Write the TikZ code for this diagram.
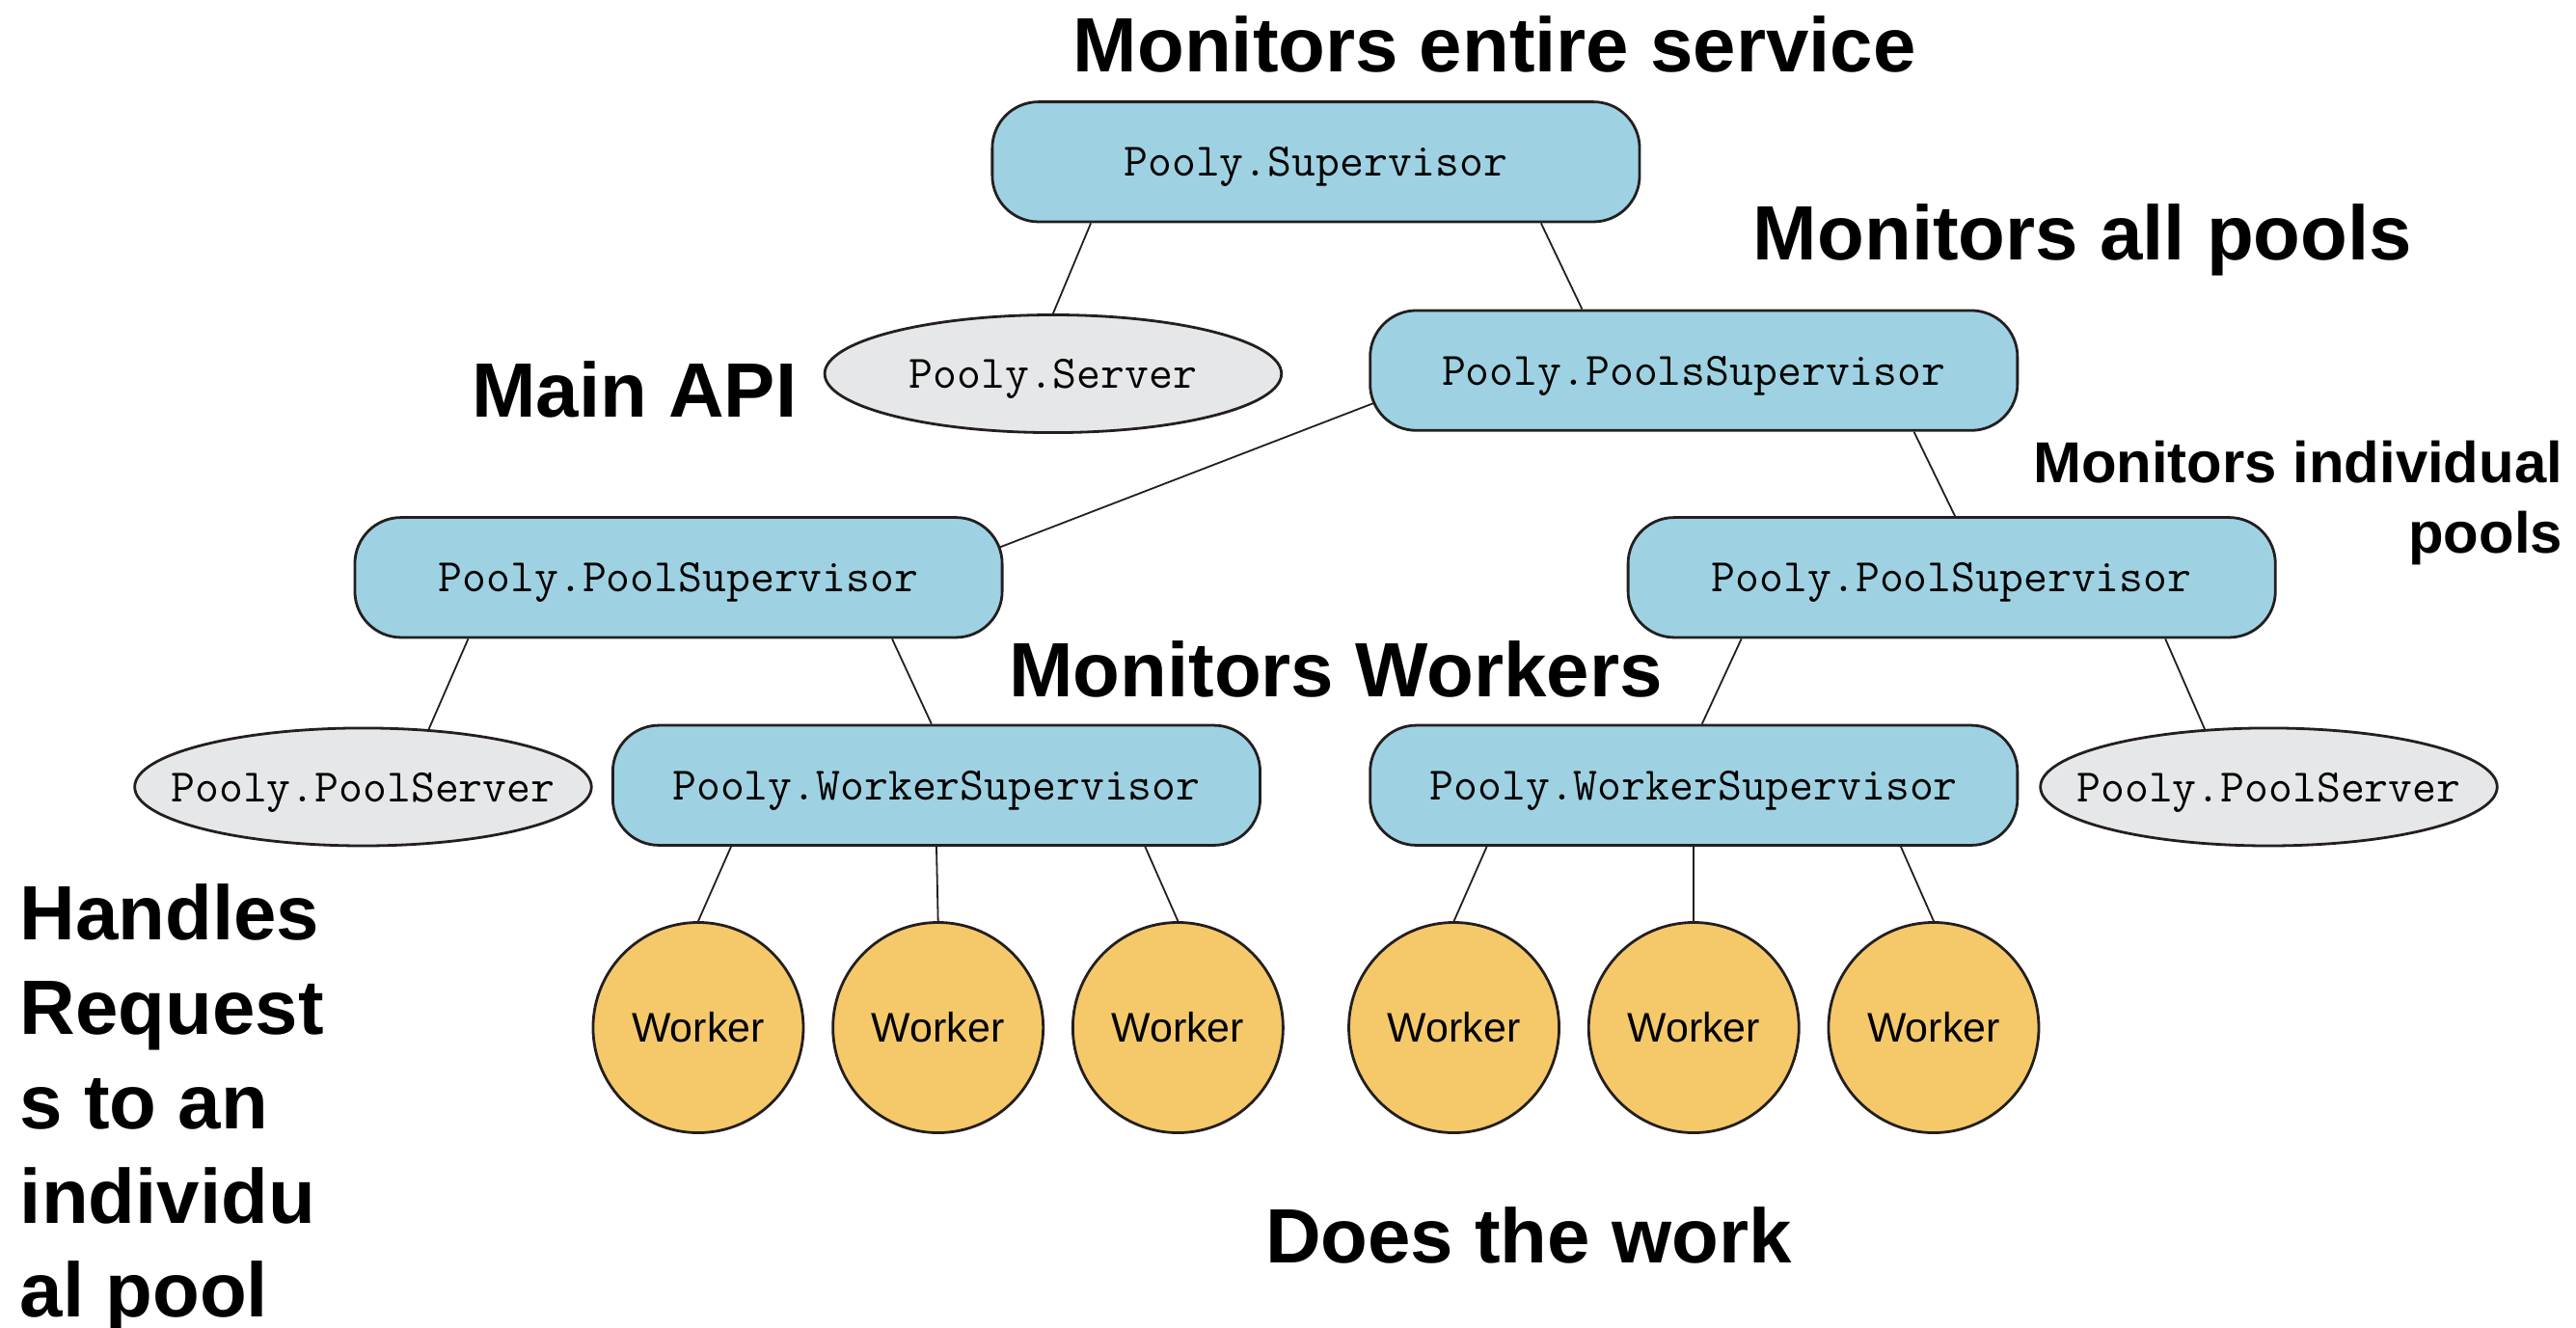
\documentclass[tikz,border=0pt]{standalone}
\usepackage{fontspec}
\setmainfont{Liberation Sans}
\usetikzlibrary{shapes.geometric,calc}
\definecolor{ink}{HTML}{231F20}
\definecolor{supblue}{HTML}{9ED2E2}
\definecolor{srvgrey}{HTML}{E6E7E8}
\definecolor{wrkorange}{HTML}{F5C96A}
\begin{document}
\begin{tikzpicture}[x=0.03cm, y=-0.03cm,
  supbox/.style={draw=ink, line width=1.4pt, fill=supblue, rounded corners=24pt,
    minimum width=11.82cm, minimum height=2.19cm, inner sep=0pt, text depth=0pt,
    font=\ttfamily\fontsize{24.2}{28}\selectfont},
  srvell/.style={ellipse, draw=ink, line width=1.4pt, fill=srvgrey,
    minimum width=8.34cm, minimum height=2.15cm, inner xsep=-30pt, inner ysep=0pt,
    text depth=0pt, font=\ttfamily\fontsize{24.2}{28}\selectfont},
  workerc/.style={circle, draw=ink, line width=1.4pt, fill=wrkorange,
    minimum size=3.84cm, inner sep=0pt, font=\fontsize{21.5}{25}\selectfont},
  link/.style={draw=ink, line width=0.9pt},
  heading/.style={inner sep=0pt, font=\bfseries\fontsize{40}{49}\selectfont},
  smallheading/.style={inner sep=0pt, font=\bfseries\fontsize{30}{36.6}\selectfont}]
\useasboundingbox (0,0) rectangle (1568,808);

% supervision tree
\node[supbox] (sup)   at (801,98.5)  {Pooly.Supervisor};
\node[srvell] (srv)   at (641,227.5) {Pooly.Server};
\node[supbox] (pools) at (1031,225.5) {Pooly.PoolsSupervisor};
\node[supbox] (lpool) at (413,351.5) {Pooly.PoolSupervisor};
\node[supbox] (rpool) at (1188,351.5) {Pooly.PoolSupervisor};
\node[srvell] (lps)   at (221,479)   {Pooly.PoolServer};
\node[supbox] (lws)   at (570,478)   {Pooly.WorkerSupervisor};
\node[supbox] (rws)   at (1031,478)  {Pooly.WorkerSupervisor};
\node[srvell] (rps)   at (1381,479)  {Pooly.PoolServer};

\foreach \i/\x in {1/425,2/571,3/717,4/885,5/1031,6/1177}
  \node[workerc] (w\i) at (\x,625.5) {Worker};

% links between parents and children
\draw[link] ($(sup.south)+(-137,0)$) -- (srv.north);
\draw[link] ($(sup.south)+(137,0)$) -- ($(pools.north)+(-68,0)$);
\draw[link] ($(pools.west)+(4,19.5)$) -- ($(lpool.east)+(-2,-18.5)$);
\draw[link] ($(pools.south)+(134,0)$) -- ($(rpool.north)+(2,0)$);
\draw[link] ($(lpool.south)+(-128,0)$) -- ($(lps.north)+(40,1.5)$);
\draw[link] ($(lpool.south)+(130,0)$) -- ($(lws.north)+(-3,0)$);
\draw[link] ($(rpool.south)+(-128,0)$) -- ($(rws.north)+(5,0)$);
\draw[link] ($(rpool.south)+(130,0)$) -- ($(rps.north)+(-39,1.5)$);
\draw[link] ($(lws.south)+(-125,0)$) -- (w1.north);
\draw[link] (lws.south) -- (w2.north);
\draw[link] ($(lws.south)+(127,0)$) -- (w3.north);
\draw[link] ($(rws.south)+(-126,0)$) -- (w4.north);
\draw[link] (rws.south) -- (w5.north);
\draw[link] ($(rws.south)+(126,0)$) -- (w6.north);

% annotations
\node[heading, anchor=base west] (t1) at (653,44) {Monitors entire service};
\node[heading, anchor=base west] (t2) at (1067,158) {Monitors all pools};
\node[heading, anchor=base west] (t3) at (287,254) {Main API};
\node[smallheading, anchor=north east, align=right] (t4) at (1560,268) {Monitors individual\\pools};
\node[heading, anchor=base west] (t5) at (614,424) {Monitors Workers};
\node[heading, anchor=north west, align=left] (t6) at (12,538) {Handles\\Request\\s to an\\individu\\al pool};
\node[heading, anchor=base west] (t7) at (770,769) {Does the work};
\end{tikzpicture}
\end{document}
